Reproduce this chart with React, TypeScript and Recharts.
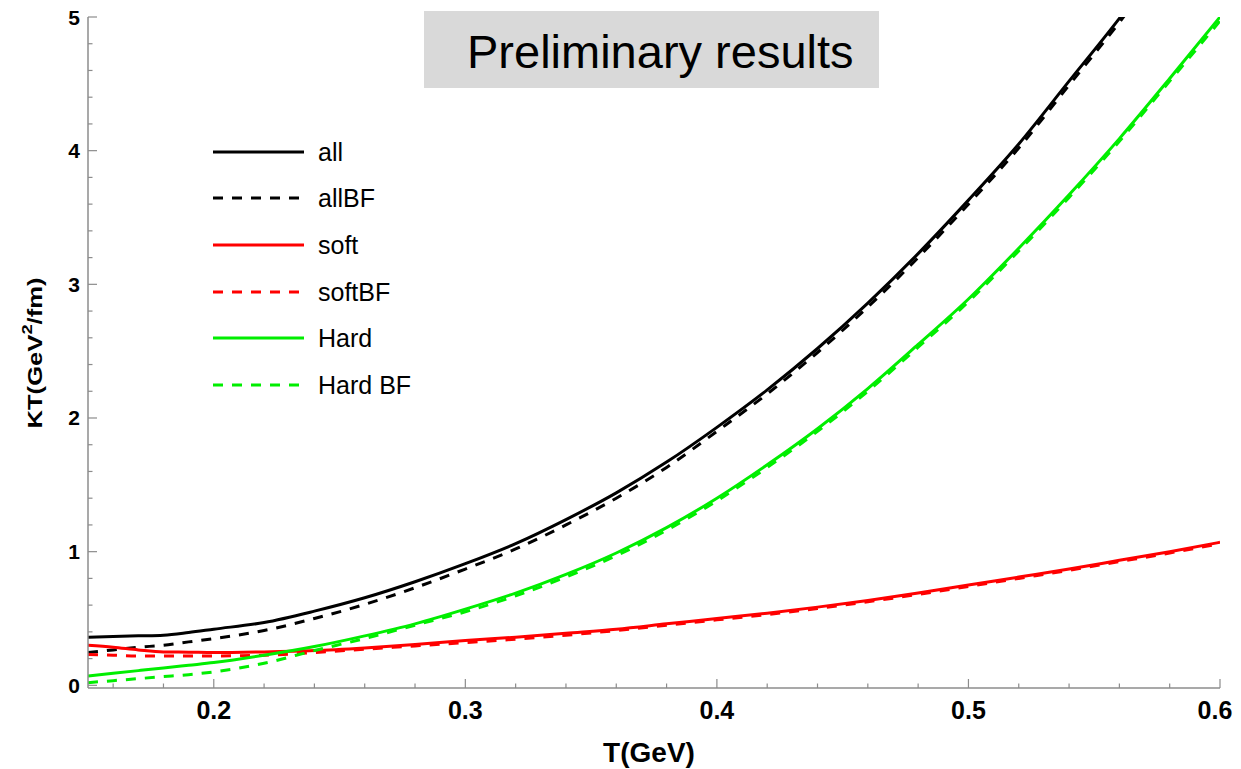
import React from 'react';
import { LineChart, Line, XAxis, YAxis } from 'recharts';

const temps = [
  0.15, 0.16, 0.17, 0.18, 0.19, 0.2, 0.22, 0.24, 0.26, 0.28, 0.3, 0.32, 0.34,
  0.36, 0.38, 0.4, 0.42, 0.44, 0.46, 0.48, 0.5, 0.52, 0.54, 0.56, 0.58, 0.6,
];

// KT (GeV^2/fm)
const allK = [
  0.36, 0.365, 0.37, 0.375, 0.395, 0.42, 0.47, 0.555, 0.655, 0.775, 0.91, 1.06, 1.24,
  1.44, 1.67, 1.93, 2.21, 2.52, 2.86, 3.23, 3.63, 4.05, 4.52, 4.99, 5.5, 6.05,
];
const allBF = [
  0.245, 0.265, 0.285, 0.3, 0.325, 0.35, 0.41, 0.5, 0.605, 0.73, 0.87, 1.02, 1.2,
  1.4, 1.63, 1.9, 2.18, 2.49, 2.83, 3.2, 3.6, 4.02, 4.49, 4.96, 5.47, 6.0,
];
const soft = [
  0.3, 0.285, 0.265, 0.25, 0.248, 0.245, 0.25, 0.26, 0.28, 0.305, 0.335, 0.36, 0.39,
  0.42, 0.46, 0.5, 0.54, 0.585, 0.635, 0.69, 0.75, 0.81, 0.87, 0.935, 1.0, 1.07,
];
const softBF = [
  0.23, 0.225, 0.22, 0.22, 0.22, 0.22, 0.225, 0.245, 0.27, 0.295, 0.32, 0.345, 0.375,
  0.41, 0.45, 0.49, 0.53, 0.575, 0.625, 0.68, 0.74, 0.8, 0.86, 0.925, 0.99, 1.06,
];
const hard = [
  0.07, 0.09, 0.11, 0.13, 0.15, 0.17, 0.225, 0.29, 0.37, 0.46, 0.57, 0.69, 0.83,
  0.99, 1.18, 1.4, 1.65, 1.92, 2.22, 2.55, 2.89, 3.27, 3.67, 4.09, 4.54, 5.0,
];
const hardBF = [
  0.02, 0.035, 0.05, 0.065, 0.08, 0.1, 0.165, 0.26, 0.35, 0.45, 0.55, 0.67, 0.81,
  0.97, 1.16, 1.38, 1.63, 1.9, 2.2, 2.53, 2.87, 3.25, 3.65, 4.07, 4.52, 4.97,
];

const xTicks = [
  0.16, 0.18, 0.2, 0.22, 0.24, 0.26, 0.28, 0.3, 0.32, 0.34, 0.36, 0.38, 0.4,
  0.42, 0.44, 0.46, 0.48, 0.5, 0.52, 0.54, 0.56, 0.58, 0.6,
];
const xMajor = [0.2, 0.3, 0.4, 0.5, 0.6];
const yTicks = [
  0, 0.2, 0.4, 0.6, 0.8, 1, 1.2, 1.4, 1.6, 1.8, 2, 2.2, 2.4, 2.6, 2.8, 3, 3.2,
  3.4, 3.6, 3.8, 4, 4.2, 4.4, 4.6, 4.8, 5,
];
const yMajor = [0, 1, 2, 3, 4, 5];

const series = [
  { key: 'all', label: 'all', values: allK, color: '#000000', dashed: false },
  { key: 'allBF', label: 'allBF', values: allBF, color: '#000000', dashed: true },
  { key: 'soft', label: 'soft', values: soft, color: '#ff0000', dashed: false },
  { key: 'softBF', label: 'softBF', values: softBF, color: '#ff0000', dashed: true },
  { key: 'hard', label: 'Hard', values: hard, color: '#00ee00', dashed: false },
  { key: 'hardBF', label: 'Hard BF', values: hardBF, color: '#00ee00', dashed: true },
];

const data = temps.map((t, i) => {
  const row: Record<string, number> = { T: t };
  series.forEach((s) => (row[s.key] = s.values[i]));
  return row;
});

const FONT = '"Liberation Sans", Arial, Helvetica, sans-serif';
const FRAME = '#8c8c8c';
const W = 1233;
const OY = 14; // extra room above the plot so the "5" label is not clipped
const H = 761 + OY;

const isMajor = (v: number, majors: number[]) => majors.some((m) => Math.abs(m - v) < 1e-6);

function BottomTick({ x, y, payload }: any) {
  const major = isMajor(payload.value, xMajor);
  // last label sits on the right edge, pull it in a touch so it isn't cut
  const dx = Math.abs(payload.value - 0.6) < 1e-6 ? -5 : 0;
  return (
    <g>
      <line x1={x} x2={x} y1={y} y2={y - (major ? 9 : 4.5)} stroke={FRAME} strokeWidth={1.2} />
      {major && (
        <text x={x + dx} y={y + 22} textAnchor="middle" dominantBaseline="central"
          fontSize={25} fontWeight="bold" fontFamily={FONT} fill="#000">
          {payload.value.toFixed(1)}
        </text>
      )}
    </g>
  );
}

function TopTick({ x, y, payload }: any) {
  const major = isMajor(payload.value, xMajor);
  return <line x1={x} x2={x} y1={y} y2={y + (major ? 9 : 4.5)} stroke={FRAME} strokeWidth={1.2} />;
}

function LeftTick({ x, y, payload }: any) {
  const major = isMajor(payload.value, yMajor);
  return (
    <g>
      <line x1={x} x2={x + (major ? 9 : 4.5)} y1={y} y2={y} stroke={FRAME} strokeWidth={1.2} />
      {major && (
        <text x={x - 8} y={y} textAnchor="end" dominantBaseline="central"
          fontSize={21} fontWeight="bold" fontFamily={FONT} fill="#000">
          {payload.value}
        </text>
      )}
    </g>
  );
}

function RightTick({ x, y, payload }: any) {
  const major = isMajor(payload.value, yMajor);
  return <line x1={x} x2={x - (major ? 9 : 4.5)} y1={y} y2={y} stroke={FRAME} strokeWidth={1.2} />;
}

export default function App() {
  const legendRows = [144, 190, 237, 284, 330, 377].map((v) => v + OY);
  return (
    <div style={{ position: 'relative', width: W, height: H, marginTop: -OY, fontFamily: FONT }}>
      <style>{'html, body { overflow: hidden; }'}</style>
      <LineChart width={W} height={H} data={data} margin={{ top: 9 + OY, right: 21, bottom: 0, left: 0 }}>
        <XAxis
          dataKey="T" type="number" domain={[0.15, 0.6]} allowDataOverflow
          ticks={xTicks} interval={0} height={81} tickSize={0} tickMargin={0}
          tick={<BottomTick />} axisLine={{ stroke: FRAME, strokeWidth: 1.5 }}
        />
        <XAxis
          xAxisId="top" orientation="top" dataKey="T" type="number" domain={[0.15, 0.6]}
          allowDataOverflow ticks={xTicks} interval={0} height={0} tickSize={0} tickMargin={0}
          tick={<TopTick />} axisLine={{ stroke: FRAME, strokeWidth: 1.5 }}
        />
        <YAxis
          type="number" domain={[-0.02, 5]} allowDataOverflow ticks={yTicks} interval={0}
          width={80} tickSize={0} tickMargin={0} tick={<LeftTick />}
          axisLine={{ stroke: FRAME, strokeWidth: 1.5 }}
        />
        <YAxis
          yAxisId="right" orientation="right" type="number" domain={[-0.02, 5]} allowDataOverflow
          ticks={yTicks} interval={0} width={0} tickSize={0} tickMargin={0} tick={<RightTick />}
          axisLine={{ stroke: FRAME, strokeWidth: 1.5 }}
        />
        {series.map((s) => (
          <Line
            key={s.key} type="monotone" dataKey={s.key} name={s.label} stroke={s.color}
            strokeWidth={3} strokeDasharray={s.dashed ? '10 9' : undefined}
            dot={false} activeDot={false} isAnimationActive={false}
          />
        ))}
      </LineChart>

      <svg width={W} height={H} style={{ position: 'absolute', left: 0, top: 0, pointerEvents: 'none' }}>
        {/* axis titles */}
        <text x={641} y={744 + OY} textAnchor="middle" dominantBaseline="central"
          fontSize={28} fontWeight="bold" fontFamily={FONT} fill="#000">
          T(GeV)
        </text>
        <text transform={`translate(27,${345 + OY}) rotate(-90) scale(1.22,1)`} textAnchor="middle"
          dominantBaseline="central" fontSize={21} fontWeight="bold" fontFamily={FONT} fill="#000">
          KT(GeV<tspan dy={-8} fontSize={15}>2</tspan><tspan dy={8}>/fm)</tspan>
        </text>

        {/* legend */}
        {series.map((s, i) => (
          <g key={s.key}>
            <line x1={205} x2={296} y1={legendRows[i]} y2={legendRows[i]} stroke={s.color}
              strokeWidth={3} strokeDasharray={s.dashed ? '10 9' : undefined} />
            <text x={310} y={legendRows[i]} dominantBaseline="central" fontSize={25}
              fontFamily={FONT} fill="#000">
              {s.label}
            </text>
          </g>
        ))}

        {/* annotation box */}
        <rect x={416} y={3 + OY} width={455} height={77} fill="#d9d9d9" />
        <text x={459} y={60 + OY} fontSize={47} fontFamily={FONT} fill="#000">
          Preliminary results
        </text>
      </svg>
    </div>
  );
}
